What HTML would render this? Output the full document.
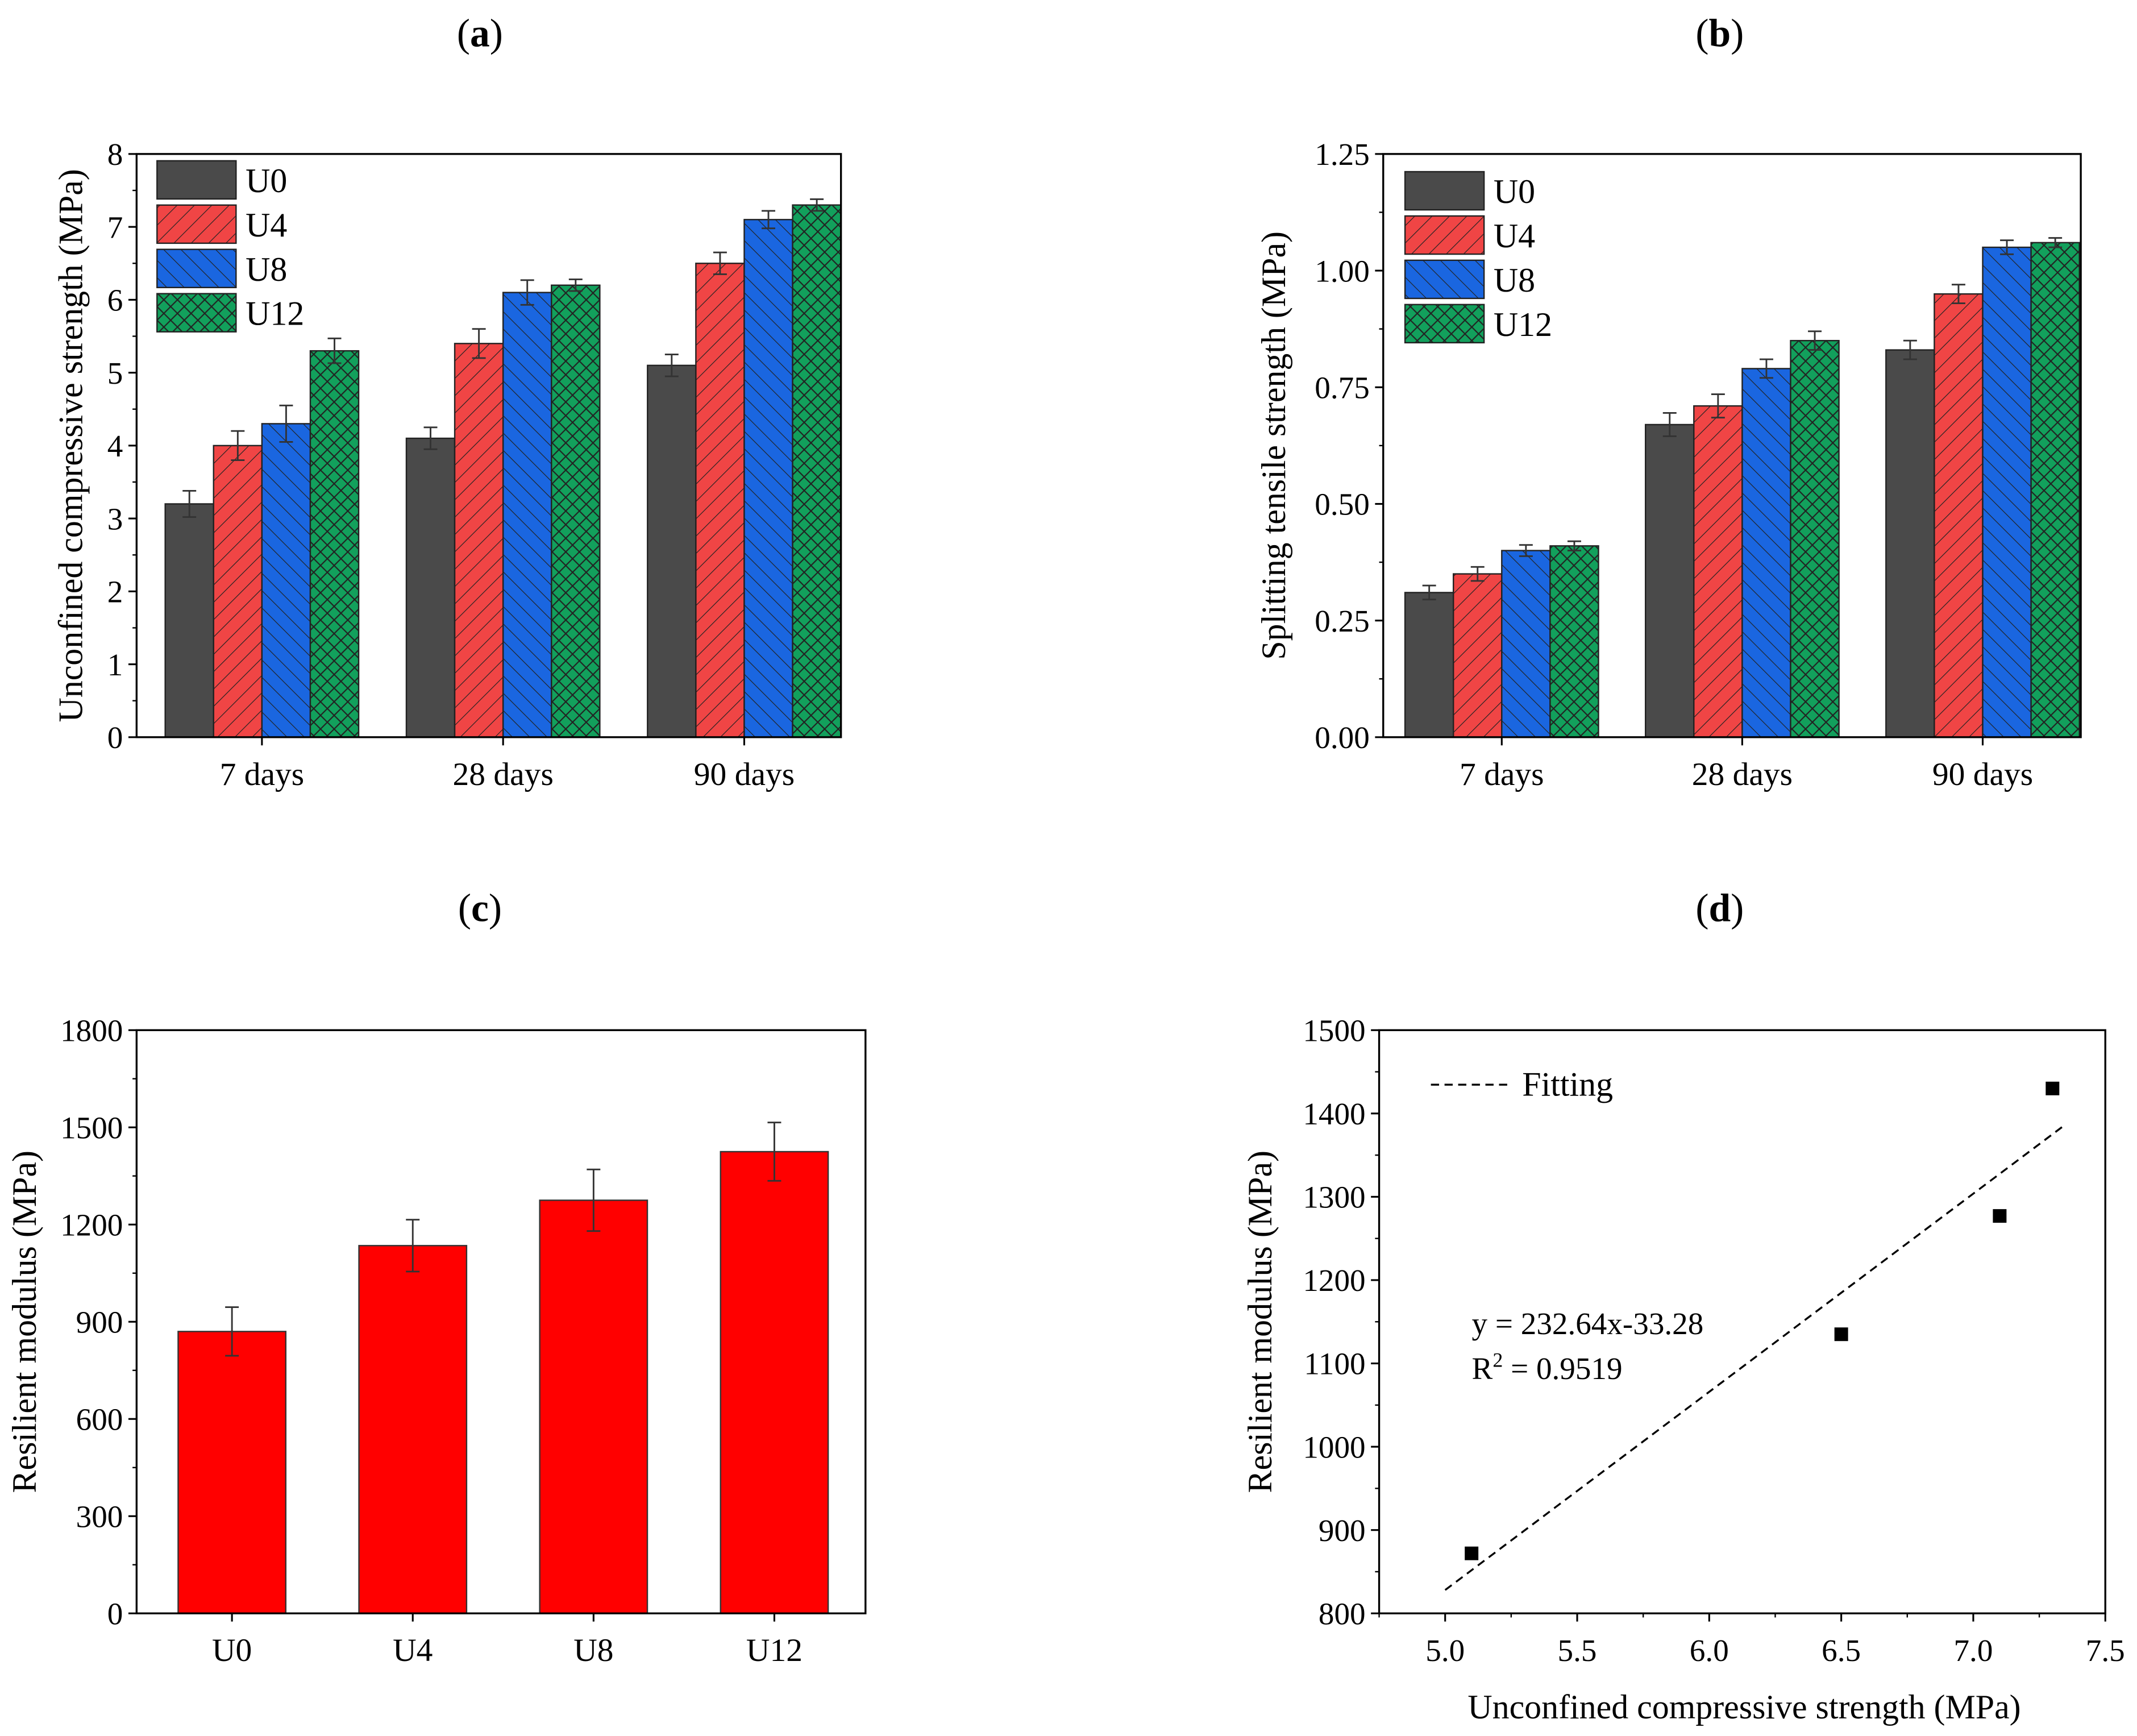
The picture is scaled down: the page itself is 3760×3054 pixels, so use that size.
<!DOCTYPE html>
<html><head><meta charset="utf-8"><style>
html,body{margin:0;padding:0;background:#fff;}
svg{display:block;}
text{font-family:"Liberation Serif",serif;}
</style></head><body>
<svg id="fig" width="3760" height="3054" viewBox="0 0 1568 1274" xmlns="http://www.w3.org/2000/svg" font-family="'Liberation Serif', serif">
<defs>
<pattern id="hU4" patternUnits="userSpaceOnUse" width="9" height="9" patternTransform="rotate(45)"><rect width="9" height="9" fill="#f04545"/><line x1="0" y1="0" x2="0" y2="9" stroke="#222" stroke-width="1"/></pattern>
<pattern id="hU8" patternUnits="userSpaceOnUse" width="9" height="9" patternTransform="rotate(-45)"><rect width="9" height="9" fill="#1a66e0"/><line x1="0" y1="0" x2="0" y2="9" stroke="#222" stroke-width="1"/></pattern>
<pattern id="hU12" patternUnits="userSpaceOnUse" width="10" height="10"><rect width="10" height="10" fill="#12a05c"/><path d="M0,0L10,10M10,0L0,10" stroke="#222" stroke-width="0.9"/></pattern>
</defs>
<g id="root" font-family="'Liberation Serif', serif"></g>
</svg>
<script>
// ---- data ----
const groups = ["7 days","28 days","90 days"];
const series = ["U0","U4","U8","U12"];
const ucsVals = [[3.2,4.1,5.1],[4.0,5.4,6.5],[4.3,6.1,7.1],[5.3,6.2,7.3]];
const ucsErr = [[0.18,0.15,0.15],[0.2,0.2,0.15],[0.25,0.17,0.12],[0.17,0.08,0.08]];
const stsVals = [[0.31,0.67,0.83],[0.35,0.71,0.95],[0.40,0.79,1.05],[0.41,0.85,1.06]];
const stsErr = [[0.015,0.025,0.02],[0.015,0.025,0.02],[0.012,0.02,0.015],[0.01,0.02,0.01]];
const ucsTicks = [0,1,2,3,4,5,6,7,8];
const stsTicks = [0,0.25,0.5,0.75,1.0,1.25];
const mrCats = ["U0","U4","U8","U12"];
const mrVals = [870,1135,1275,1425];
const mrErr = [75,80,95,90];
const mrTicks = [0,300,600,900,1200,1500,1800];
const scX = [5.1,6.5,7.1,7.3];
const scY = [872,1135,1277,1430];
const fitX = [5.0,7.35];
const fitY = [828,1387];
const dXTicks = [5.0,5.5,6.0,6.5,7.0,7.5];
const dYTicks = [800,900,1000,1100,1200,1300,1400,1500];

const NS="http://www.w3.org/2000/svg";
const root=document.getElementById('root');
const FF="'Liberation Serif', serif";
function el(tag,attrs,parent){const e=document.createElementNS(NS,tag);for(const k in attrs)e.setAttribute(k,attrs[k]);(parent||root).appendChild(e);return e;}
function txt(s,attrs,parent){attrs['font-family']=FF;const e=el('text',attrs,parent);e.textContent=s;return e;}
const fills={U0:"#4a4a4a",U4:"url(#hU4)",U8:"url(#hU8)",U12:"url(#hU12)"};
const TK=23, AT=25;

function panelTitle(s,x,y,name){
  const t=el('text',{x:x,y:y,'font-size':29,'text-anchor':'middle','font-family':FF});
  
  
  t.innerHTML='(<tspan font-weight="bold">'+s+'</tspan>)';
}
panelTitle('a',352,34,'title-a');panelTitle('b',1262,34,'title-b');
panelTitle('c',352,676,'title-c');panelTitle('d',1262,676,'title-d');

function barPanel(p){
  const g=el('g',{});
  
  
  const y=v=>p.y0-(v-p.ymin)/(p.ymax-p.ymin)*(p.y0-p.y1);
  p.ticks.forEach((t,i)=>{
    el('line',{x1:p.x0-6,x2:p.x0,y1:y(t),y2:y(t),stroke:'#000','stroke-width':1.3},g);
    const lb=txt(p.fmt(t),{x:p.x0-10,y:y(t)+8,'font-size':TK,'text-anchor':'end'},g);
    
    
    if(i<p.ticks.length-1){const m=(t+p.ticks[i+1])/2;el('line',{x1:p.x0-3,x2:p.x0,y1:y(m),y2:y(m),stroke:'#000','stroke-width':1},g);}
  });
  p.groups.forEach((gname,gi)=>{
    const cx=p.gc0+gi*p.gsp;
    p.series.forEach((s,si)=>{
      const v=p.vals[si][gi],e=p.err[si][gi];
      const bx=cx-2*p.bw+si*p.bw;
      const r=el('rect',{x:bx,y:y(v),width:p.bw,height:y(p.ymin)-y(v),fill:fills[s],stroke:'#222','stroke-width':1},g);
      
      
      const mx=bx+p.bw/2;
      el('path',{d:`M${mx},${y(v+e)}V${y(v-e)}M${mx-5},${y(v+e)}H${mx+5}M${mx-5},${y(v-e)}H${mx+5}`,stroke:'#333','stroke-width':1.2,fill:'none'},g);
    });
    el('line',{x1:cx,x2:cx,y1:p.y0,y2:p.y0+6,stroke:'#000','stroke-width':1.3},g);
    const lb=txt(gname,{x:cx,y:p.y0+35,'font-size':24,'text-anchor':'middle'},g);
    
    
  });
  el('rect',{x:p.x0,y:p.y1,width:p.x1-p.x0,height:p.y0-p.y1,fill:'none',stroke:'#000','stroke-width':1.4},g);
  const at=txt(p.ytitle,{x:0,y:0,'font-size':AT,'text-anchor':'middle',transform:`translate(${p.tx},${(p.y0+p.y1)/2}) rotate(-90)`},g);
  
  
  p.series.forEach((s,si)=>{
    const ly=p.ly+si*32.5;
    const r=el('rect',{x:p.lx,y:ly,width:58,height:28,fill:fills[s],stroke:'#222','stroke-width':1},g);
    
    
    const t=txt(s,{x:p.lx+65,y:ly+23,'font-size':25},g);
    
    
  });
}
barPanel({name:'chart-ucs',x0:100,x1:617,y0:541,y1:113,ymin:0,ymax:8,ticks:ucsTicks,fmt:t=>String(t),
  groups:groups,series:series,vals:ucsVals,err:ucsErr,gc0:192,gsp:177,bw:35.5,
  ytitle:'Unconfined compressive strength (MPa)',tx:60,lx:115,ly:118});
barPanel({name:'chart-sts',x0:1015,x1:1527,y0:541,y1:113,ymin:0,ymax:1.25,ticks:stsTicks,fmt:t=>t.toFixed(2),
  groups:groups,series:series,vals:stsVals,err:stsErr,gc0:1102,gsp:176.5,bw:35.5,
  ytitle:'Splitting tensile strength (MPa)',tx:943,lx:1031,ly:126});

(function(){
  const g=el('g',{});
  
  
  const x0=100,x1=635,y0=1184,y1=756,ymin=0,ymax=1800;
  const y=v=>y0-(v-ymin)/(ymax-ymin)*(y0-y1);
  mrTicks.forEach((t,i)=>{
    el('line',{x1:x0-6,x2:x0,y1:y(t),y2:y(t),stroke:'#000','stroke-width':1.3},g);
    const lb=txt(String(t),{x:x0-10,y:y(t)+8,'font-size':TK,'text-anchor':'end'},g);
    
    
    if(i<mrTicks.length-1){const m=(t+mrTicks[i+1])/2;el('line',{x1:x0-3,x2:x0,y1:y(m),y2:y(m),stroke:'#000','stroke-width':1},g);}
  });
  mrCats.forEach((c,i)=>{
    const cx=170+i*132.7,bw=79;
    const r=el('rect',{x:cx-bw/2,y:y(mrVals[i]),width:bw,height:y0-y(mrVals[i]),fill:'#ff0000',stroke:'#333','stroke-width':1},g);
    
    
    const a=y(mrVals[i]+mrErr[i]),b=y(mrVals[i]-mrErr[i]);
    el('path',{d:`M${cx},${a}V${b}M${cx-5},${a}H${cx+5}M${cx-5},${b}H${cx+5}`,stroke:'#333','stroke-width':1.2,fill:'none'},g);
    el('line',{x1:cx,x2:cx,y1:y0,y2:y0+6,stroke:'#000','stroke-width':1.3},g);
    const lb=txt(c,{x:cx,y:y0+35,'font-size':24,'text-anchor':'middle'},g);
    
    
  });
  el('rect',{x:x0,y:y1,width:x1-x0,height:y0-y1,fill:'none',stroke:'#000','stroke-width':1.4},g);
  const at=txt('Resilient modulus  (MPa)',{x:0,y:0,'font-size':AT,'text-anchor':'middle',transform:`translate(26,${(y0+y1)/2}) rotate(-90)`,'xml:space':'preserve'},g);
  
  
})();

(function(){
  const g=el('g',{});
  
  
  const x0=1012,x1=1545,y0=1184,y1=756,xmin=4.75,xmax=7.5,ymin=800,ymax=1500;
  const X=v=>x0+(v-xmin)/(xmax-xmin)*(x1-x0);
  const Y=v=>y0-(v-ymin)/(ymax-ymin)*(y0-y1);
  dYTicks.forEach((t,i)=>{
    el('line',{x1:x0-6,x2:x0,y1:Y(t),y2:Y(t),stroke:'#000','stroke-width':1.3},g);
    const lb=txt(String(t),{x:x0-10,y:Y(t)+8,'font-size':TK,'text-anchor':'end'},g);
    
    
    if(i<dYTicks.length-1){const m=(t+dYTicks[i+1])/2;el('line',{x1:x0-3,x2:x0,y1:Y(m),y2:Y(m),stroke:'#000','stroke-width':1},g);}
  });
  dXTicks.forEach((t,i)=>{
    el('line',{x1:X(t),x2:X(t),y1:y0,y2:y0+6,stroke:'#000','stroke-width':1.3},g);
    const lb=txt(t.toFixed(1),{x:X(t),y:y0+35,'font-size':TK,'text-anchor':'middle'},g);
    
    
    const m=t-0.25;el('line',{x1:X(m),x2:X(m),y1:y0,y2:y0+3,stroke:'#000','stroke-width':1},g);
  });
  const fl=el('line',{x1:X(fitX[0]),y1:Y(fitY[0]),x2:X(fitX[1]),y2:Y(fitY[1]),stroke:'#000','stroke-width':1.4,'stroke-dasharray':'6,4'},g);
  
  
  scX.forEach((v,i)=>{
    const p=el('rect',{x:X(v)-5,y:Y(scY[i])-5,width:10,height:10,fill:'#000'},g);
    
    
  });
  el('rect',{x:x0,y:y1,width:x1-x0,height:y0-y1,fill:'none',stroke:'#000','stroke-width':1.4},g);
  el('line',{x1:1050,x2:1110,y1:796,y2:796,stroke:'#000','stroke-width':1.4,'stroke-dasharray':'6,4'},g);
  const lg=txt('Fitting',{x:1117,y:804,'font-size':25},g);
  
  
  const eq=txt('y = 232.64x-33.28',{x:1080,y:979,'font-size':23},g);
  
  
  const r2=el('text',{x:1080,y:1012,'font-size':23,'font-family':FF},g);
  
  
  r2.innerHTML='R<tspan dy="-9" font-size="15">2</tspan><tspan dy="9"> = 0.9519</tspan>';
  const at=txt('Resilient modulus (MPa)',{x:0,y:0,'font-size':AT,'text-anchor':'middle',transform:`translate(933,${(y0+y1)/2}) rotate(-90)`},g);
  
  
  const xt=txt('Unconfined compressive strength (MPa)',{x:1280,y:1261,'font-size':AT,'text-anchor':'middle'},g);
  
  
})();
</script>
</body></html>
